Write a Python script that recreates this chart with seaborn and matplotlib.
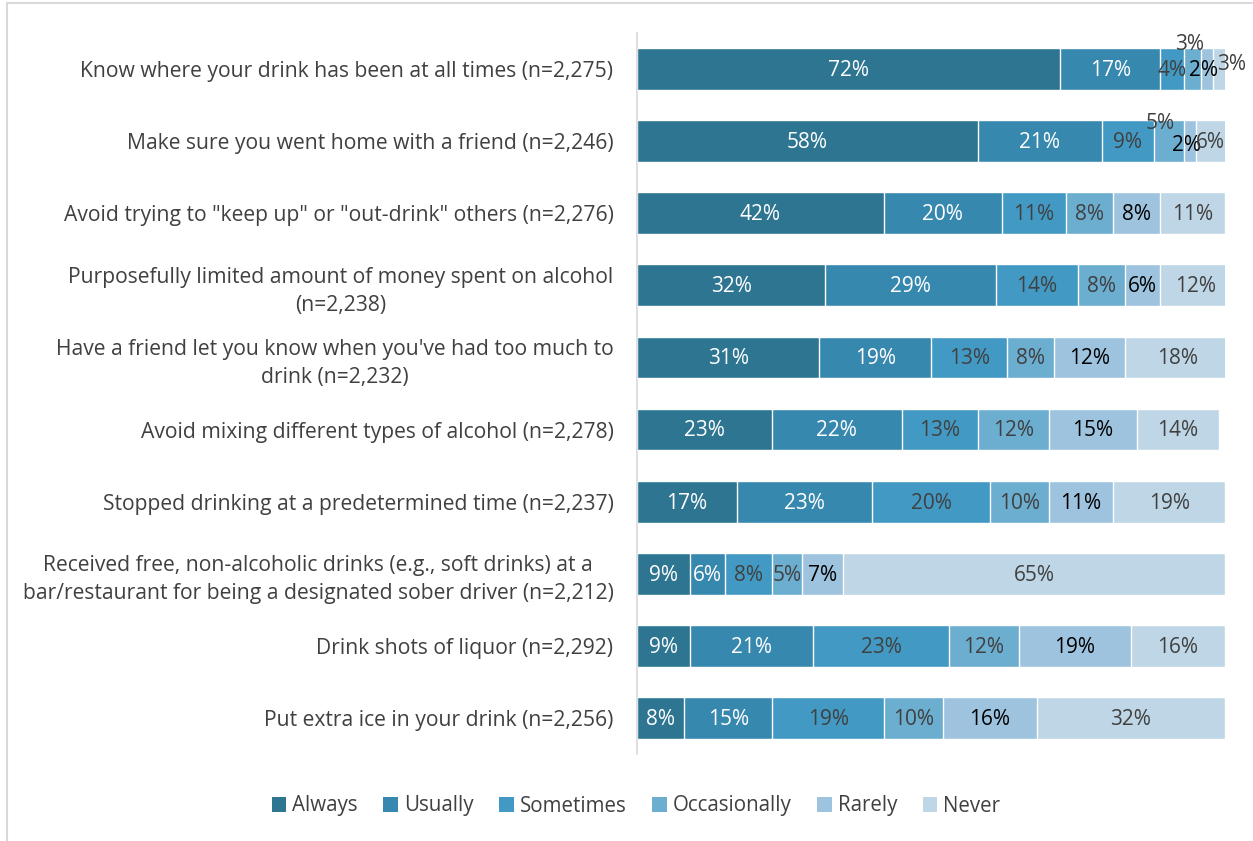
import matplotlib
matplotlib.use("Agg")
import matplotlib.pyplot as plt
from matplotlib.patches import Patch
from matplotlib.lines import Line2D
import seaborn as sns
import pandas as pd

# Survey items (top to bottom)
categories = [
    "Know where your drink has been at all times (n=2,275)",
    "Make sure you went home with a friend (n=2,246)",
    "Avoid trying to \"keep up\" or \"out-drink\" others (n=2,276)",
    "Purposefully limited amount of money spent on alcohol\n(n=2,238)",
    "Have a friend let you know when you've had too much to\ndrink (n=2,232)",
    "Avoid mixing different types of alcohol (n=2,278)",
    "Stopped drinking at a predetermined time (n=2,237)",
    "Received free, non-alcoholic drinks (e.g., soft drinks) at a\nbar/restaurant for being a designated sober driver (n=2,212)",
    "Drink shots of liquor (n=2,292)",
    "Put extra ice in your drink (n=2,256)",
]
responses = ["Always", "Usually", "Sometimes", "Occasionally", "Rarely", "Never"]

always = [72, 58, 42, 32, 31, 23, 17, 9, 9, 8]
usually = [17, 21, 20, 29, 19, 22, 23, 6, 21, 15]
sometimes = [4, 9, 11, 14, 13, 13, 20, 8, 23, 19]
occasionally = [3, 5, 8, 8, 8, 12, 10, 5, 12, 10]
rarely = [2, 2, 8, 6, 12, 15, 11, 7, 19, 16]
never = [3, 6, 11, 12, 18, 14, 19, 65, 16, 32]

colors = ["#2E7592", "#3788AE", "#429AC4", "#6BAED0", "#9DC3DE", "#BED6E6"]
text_colors = ["white", "white", "#404040", "#404040", "black", "#404040"]

sns.set_theme(style="white")
plt.rcParams["font.family"] = ["Open Sans", "DejaVu Sans"]

df = pd.DataFrame({"item": categories})
for name, vals in zip(responses, [always, usually, sometimes, occasionally, rarely, never]):
    df[name] = vals
cum = df[responses].cumsum(axis=1)
cum["item"] = df["item"]

W, H = 1253, 841
fig = plt.figure(figsize=(W / 100, H / 100), dpi=100)
ax = fig.add_axes([637 / W, 1 - 754 / H, 588 / W, (754 - 33) / H])

# Stacked bars: draw cumulative totals from the last response back to the first
for i in reversed(range(len(responses))):
    sns.barplot(data=cum, x=responses[i], y="item", orient="h", color=colors[i],
                saturation=1, width=0.58, edgecolor="white", linewidth=1,
                errorbar=None, ax=ax)

# Nudges for labels on very narrow segments (x in %, y in rows)
nudges = {(0, 3): (-0.5, -0.36), (0, 4): (-0.6, 0.0), (0, 5): (1.7, -0.08),
          (1, 3): (-1.5, -0.26), (1, 4): (-0.5, 0.04), (1, 5): (-0.5, 0.0)}

for r in range(len(categories)):
    for c, name in enumerate(responses):
        v = df[name].iloc[r]
        x = cum[name].iloc[r] - v / 2
        dx, dy = nudges.get((r, c), (0, 0))
        ax.text(x + dx, r + dy + 0.02, f"{v}%", ha="center", va="center",
                fontsize=15, color=text_colors[c], clip_on=False)

ax.set_xlim(0, 100)
ax.set_ylim(len(categories) - 0.5, -0.5)
ax.set_xlabel("")
ax.set_ylabel("")
ax.set_xticks([])
for s in ["top", "right", "bottom"]:
    ax.spines[s].set_visible(False)
ax.spines["left"].set_color("#D9D9D9")
ax.spines["left"].set_linewidth(1.2)
ax.set_yticks(range(len(categories)))
ax.set_yticklabels(categories, multialignment="center", linespacing=1.45)
ax.tick_params(axis="y", length=0, pad=17, labelsize=15.2, labelcolor="#404040")

handles = [Patch(facecolor=col, edgecolor="none", label=n) for col, n in zip(colors, responses)]
fig.legend(handles=handles, loc="center", bbox_to_anchor=(636 / W, 1 - 806 / H),
           ncol=6, frameon=False, fontsize=14.8, handlelength=0.7, handleheight=0.7,
           handletextpad=0.3, columnspacing=1.25, labelcolor="#404040")

# Light frame lines along the top and left edges
fig.add_artist(Line2D([7 / W, 7 / W], [1 - 3 / H, 0], transform=fig.transFigure,
                      color="#D9D9D9", linewidth=1.5))
fig.add_artist(Line2D([7 / W, 1], [1 - 3 / H, 1 - 3 / H], transform=fig.transFigure,
                      color="#D9D9D9", linewidth=1.5))

fig.savefig("out.png", dpi=100)
